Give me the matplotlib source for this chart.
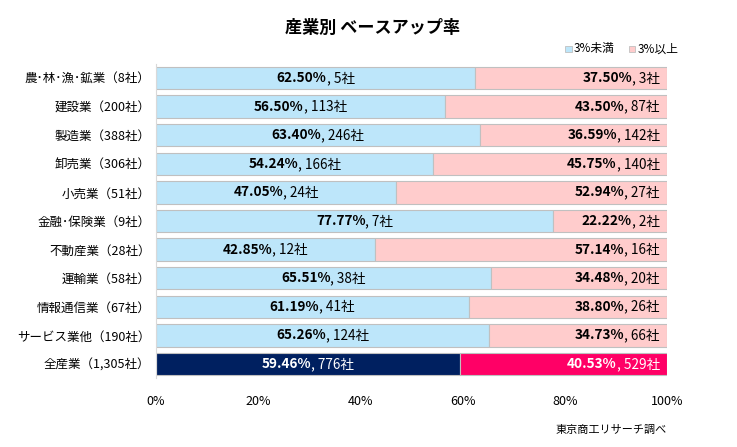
import matplotlib
matplotlib.use("Agg")
import matplotlib.pyplot as plt
from matplotlib.patches import Rectangle

plt.rcParams['font.family'] = ['Noto Sans CJK JP', 'DejaVu Sans']

categories = ["農･林･漁･鉱業（8社）", "建設業（200社）", "製造業（388社）", "卸売業（306社）",
              "小売業（51社）", "金融･保険業（9社）", "不動産業（28社）", "運輸業（58社）",
              "情報通信業（67社）", "サービス業他（190社）", "全産業（1,305社）"]
under_pct = [62.50, 56.50, 63.40, 54.24, 47.05, 77.77, 42.85, 65.51, 61.19, 65.26, 59.46]
under_cnt = [5, 113, 246, 166, 24, 7, 12, 38, 41, 124, 776]
over_pct = [37.50, 43.50, 36.59, 45.75, 52.94, 22.22, 57.14, 34.48, 38.80, 34.73, 40.53]
over_cnt = [3, 87, 142, 140, 27, 2, 16, 20, 26, 66, 529]
series_names = ["3%未満", "3%以上"]
xticks = [0, 20, 40, 60, 80, 100]
xtick_labels = ["0%", "20%", "40%", "60%", "80%", "100%"]

c_under, c_over = "#BDE6FA", "#FFCCCC"
c_under_tot, c_over_tot = "#002060", "#FF0066"
edge = "#C0C0C0"

fig = plt.figure(figsize=(7.37, 4.47), dpi=100)
ax = fig.add_axes([0.2117, 0.1537, 0.6933, 0.7038])

n = len(categories)
ys = list(range(n))
cu = [c_under] * (n - 1) + [c_under_tot]
co = [c_over] * (n - 1) + [c_over_tot]
h = 0.78
ax.barh(ys, under_pct, height=h, color=cu, edgecolor=edge, linewidth=0.8)
ax.barh(ys, over_pct, left=under_pct, height=h, color=co, edgecolor=edge, linewidth=0.8)

ax.set_ylim(n - 0.5, -0.5)
ax.set_xlim(0, 100)
ax.set_yticks(ys)
ax.set_yticklabels(categories, fontsize=9)
ax.set_xticks(xticks)
ax.set_xticklabels(xtick_labels, fontsize=9)
ax.tick_params(axis='both', length=0)
ax.tick_params(axis='y', pad=4)
ax.tick_params(axis='x', pad=12)
for s in ['top', 'right', 'bottom']:
    ax.spines[s].set_visible(False)
ax.spines['left'].set_color('#D9D9D9')

fig.canvas.draw()
r = fig.canvas.get_renderer()
px_per_unit = ax.bbox.width / 100.0

def label(x, y, bold, normal, align, color):
    t1 = ax.text(0, y, bold, fontsize=9.8, fontweight='bold', va='center', ha='left', color=color)
    t2 = ax.text(0, y, normal, fontsize=9.8, va='center', ha='left', color=color)
    w1 = t1.get_window_extent(r).width / px_per_unit
    w2 = t2.get_window_extent(r).width / px_per_unit
    tot = w1 + w2
    if align == 'center':
        start = x - tot / 2
    else:
        start = x - tot
    t1.set_x(start)
    t2.set_x(start + w1)

for i in range(n):
    col = 'white' if i == n - 1 else 'black'
    label(under_pct[i] / 2, i, f"{under_pct[i]:.2f}%", f", {under_cnt[i]:,}社", 'center', col)
    label(98.6, i, f"{over_pct[i]:.2f}%", f", {over_cnt[i]:,}社", 'right', col)

fig.text(0.505, 0.937, "産業別 ベースアップ率", ha='center', va='center', fontsize=12.3, fontweight='bold')

# legend
lx = [0.767, 0.853]
for k, name in enumerate(series_names):
    c = [c_under, c_over][k]
    fig.patches.append(Rectangle((lx[k], 0.884), 0.0085, 0.014, transform=fig.transFigure,
                                 facecolor=c, edgecolor=edge, linewidth=0.6))
    fig.text(lx[k] + 0.012, 0.891, name, fontsize=8.5, va='center', ha='left')

fig.text(0.905, 0.038, "東京商工リサーチ調べ", ha='right', va='center', fontsize=8)

fig.savefig("out.png", dpi=100, facecolor='white')
